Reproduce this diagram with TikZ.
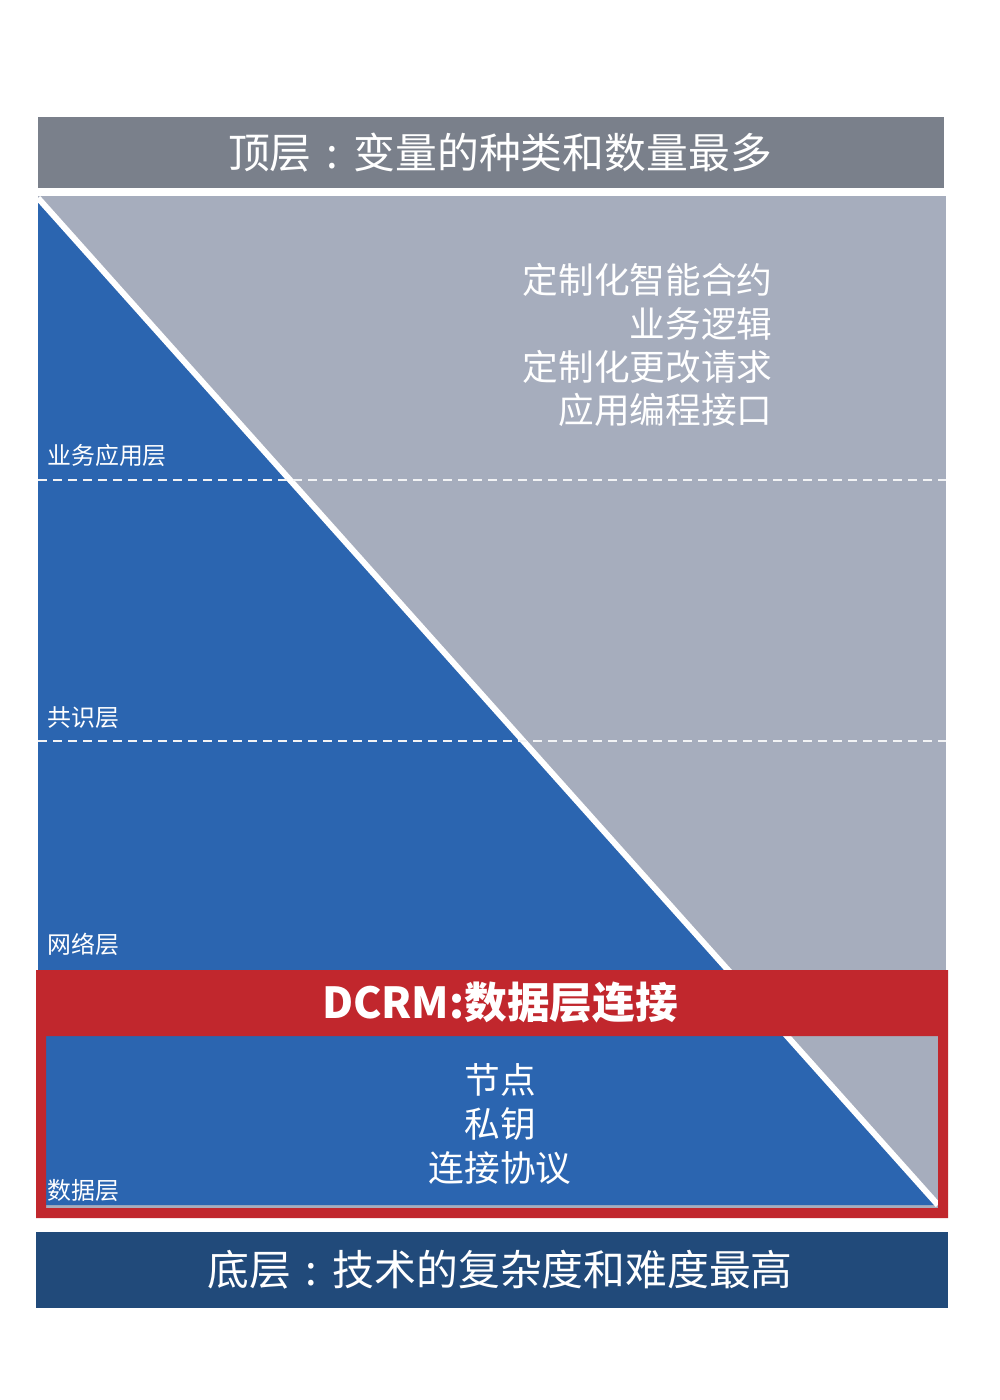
\documentclass[tikz,border=0pt]{standalone}
\usepackage{fontspec}
\setmainfont{Noto Sans CJK SC}
\definecolor{topgray}{HTML}{7A808B}
\definecolor{areagray}{HTML}{A6ADBD}
\definecolor{layerblue}{HTML}{2B65B0}
\definecolor{dcrmred}{HTML}{C1272D}
\definecolor{basenavy}{HTML}{214A7A}
\newcommand{\midcolon}{\makebox[1em]{:}}
\begin{document}
\begin{tikzpicture}[x=0.2mm,y=-0.2mm,
  layerlbl/.style={anchor=west,text=white,inner sep=0pt,font=\fontsize{13.6}{16}\selectfont},
  bigtxt/.style={text=white,inner sep=0pt,font=\fontsize{23.8}{28}\selectfont}]
\useasboundingbox[fill=white] (0,0) rectangle (1000,1400);
\fill[topgray] (38,117) rectangle (944,188);
\fill[areagray] (38,196) rectangle (946,1210);
\fill[layerblue] (38,198) -- (938,1205) -- (38,1205) -- cycle;
\path[draw,white,line width=1.2mm] (38,198) -- (938,1205);
\path[draw,white!85!areagray,line width=0.4mm,dash pattern=on 1.8mm off 1.2mm] (38,480) -- (946,480);
\path[draw,white!85!areagray,line width=0.4mm,dash pattern=on 1.8mm off 1.2mm] (38,741) -- (946,741);
\fill[dcrmred,even odd rule] (36,970) rectangle (948,1218) (46,1036) rectangle (938,1208);
\fill[basenavy] (36,1232) rectangle (948,1308);
\node[bigtxt] (top) at (500,153) {顶层\midcolon 变量的种类和数量最多};
\node[bigtxt] (bottom) at (500,1270) {底层\midcolon 技术的复杂度和难度最高};
\node[anchor=east,align=right,text=white,inner sep=0pt,font=\fontsize{20.3}{24.5}\selectfont] (apps) at (773,345) {定制化智能合约\\业务逻辑\\定制化更改请求\\应用编程接口};
\node[align=center,text=white,inner sep=0pt,font=\fontsize{20.3}{25}\selectfont] (data) at (500,1124) {节点\\私钥\\连接协议};
\node[text=white,inner sep=0pt,font=\bfseries\fontsize{24.3}{28}\selectfont] (dcrm) at (500,1002) {DCRM:数据层连接};
\node[layerlbl] (app) at (47,455) {业务应用层};
\node[layerlbl] (cons) at (47,718) {共识层};
\node[layerlbl] (net) at (47,944) {网络层};
\node[layerlbl] (dl) at (47,1190) {数据层};
\end{tikzpicture}
\end{document}
